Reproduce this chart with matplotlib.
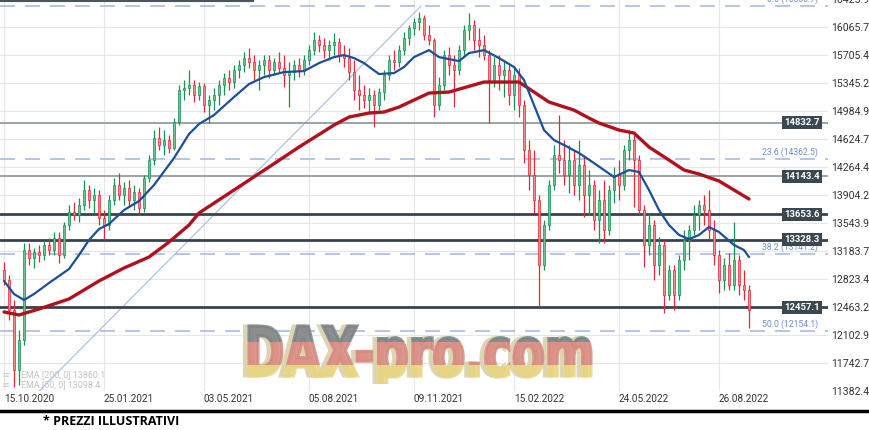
import matplotlib
matplotlib.use('Agg')
import matplotlib.pyplot as plt
import numpy as np
from matplotlib.textpath import TextPath
from matplotlib.font_manager import FontProperties
from matplotlib.patches import PathPatch, Rectangle
from matplotlib.transforms import Affine2D, blended_transform_factory
from matplotlib.lines import Line2D

# ---------------- data ----------------
opens = [12938, 12809, 12423, 11651, 12037, 13195, 13093, 13170, 13131, 13260,
         13195, 13350, 13131, 13517, 13685, 13646, 13775, 13968, 13839, 13903,
         13607, 13517, 13839, 14032, 13903, 13993, 13839, 13942, 13736, 14122,
         14354, 14637, 14547, 14611, 14508, 14843, 15255, 15280, 15319, 15190,
         15306, 15062, 15126, 15190, 15319, 15409, 15358, 15512, 15576, 15667,
         15615, 15512, 15576, 15641, 15512, 15615, 15538, 15448, 15486, 15576,
         15512, 15641, 15769, 15898, 15834, 15769, 15834, 15872, 15705, 15667,
         15486, 15255, 15190, 15126, 15190, 15062, 15229, 15448, 15641, 15615,
         15769, 15924, 16053, 16130, 16181, 15963, 15898, 15062, 15319, 15705,
         15576, 15512, 15769, 16027, 16091, 15898, 15834, 15705, 15383, 15576,
         15448, 15512, 15190, 15448, 15062, 14482, 14161, 13839, 13002, 13517,
         14032, 14418, 14354, 14161, 14354, 14032, 14289, 13903, 14032, 13582,
         13839, 13453, 13968, 14161, 14032, 14482, 14611, 14354, 13710, 13260,
         13517, 13002, 13260, 12616, 12938, 12616, 13067, 13324, 13453, 13646,
         13775, 13710, 13453, 13131, 12809, 13002, 12745, 13067, 12745, 12681]
highs = [13041, 12874, 12552, 12166, 13286, 13286, 13221, 13260, 13324, 13350,
         13427, 13427, 13556, 13775, 13813, 13865, 14096, 14032, 13993, 13968,
         13710, 13903, 14122, 14186, 14071, 14096, 14032, 13993, 14161, 14418,
         14740, 14779, 14740, 14676, 14894, 15319, 15383, 15512, 15383, 15358,
         15345, 15190, 15280, 15383, 15473, 15512, 15576, 15641, 15744, 15795,
         15705, 15641, 15705, 15705, 15667, 15744, 15705, 15615, 15641, 15667,
         15705, 15834, 16001, 15963, 15924, 15898, 15988, 15924, 15834, 15795,
         15641, 15448, 15319, 15280, 15255, 15280, 15512, 15705, 15769, 15834,
         16001, 16091, 16181, 16259, 16220, 16091, 15924, 15422, 15769, 15808,
         15705, 15834, 16091, 16246, 16156, 16053, 15963, 15769, 15679, 15705,
         15641, 15576, 15551, 15538, 15126, 14611, 14482, 13903, 13582, 14096,
         14547, 14933, 14611, 14547, 14482, 14611, 14418, 14225, 14096, 13968,
         14096, 14032, 14264, 14354, 14547, 14740, 14676, 14418, 13775, 13672,
         13582, 13363, 13324, 13002, 13002, 13131, 13453, 13517, 13775, 13839,
         13903, 13968, 13582, 13195, 13093, 13157, 13556, 13131, 12938, 12745]
lows = [12745, 12295, 11432, 11458, 11973, 13002, 12964, 13041, 13067, 13131,
        13131, 13028, 13093, 13453, 13582, 13556, 13710, 13736, 13672, 13517,
        13324, 13453, 13775, 13839, 13775, 13749, 13710, 13646, 13685, 14071,
        14289, 14482, 14418, 14444, 14482, 14804, 15126, 15190, 15100, 15126,
        14972, 14830, 14997, 15062, 15190, 15255, 15280, 15409, 15486, 15538,
        15383, 15255, 15448, 15409, 15448, 15486, 15293, 15036, 15383, 15422,
        15448, 15576, 15705, 15744, 15667, 15641, 15705, 15615, 15551, 15383,
        15126, 14997, 15023, 14959, 14779, 14997, 15126, 15383, 15512, 15551,
        15705, 15834, 15963, 16027, 15898, 15834, 14907, 14997, 15255, 15448,
        15036, 15448, 15705, 15898, 15769, 15679, 15641, 14830, 15293, 15255,
        15165, 15062, 14997, 14907, 14315, 13968, 13672, 12462, 12938, 13453,
        13968, 14186, 14032, 13929, 13903, 13839, 13620, 13646, 13453, 13286,
        13286, 13389, 13800, 13839, 13968, 14354, 13749, 13646, 12977, 13131,
        12809, 12874, 12385, 12552, 12423, 12552, 12938, 13067, 13389, 13453,
        13517, 13324, 13002, 12642, 12681, 12681, 12681, 12616, 12552, 12192]
closes = [12809, 12423, 11651, 12037, 13195, 13093, 13170, 13131, 13260, 13195,
          13350, 13131, 13517, 13685, 13646, 13775, 13968, 13839, 13903, 13607,
          13517, 13839, 14032, 13903, 13993, 13839, 13942, 13736, 14122, 14354,
          14637, 14547, 14611, 14508, 14843, 15255, 15280, 15319, 15190, 15306,
          15062, 15126, 15190, 15319, 15409, 15358, 15512, 15576, 15667, 15615,
          15512, 15576, 15641, 15512, 15615, 15538, 15448, 15486, 15576, 15512,
          15641, 15769, 15898, 15834, 15769, 15834, 15872, 15705, 15667, 15486,
          15255, 15190, 15126, 15190, 15062, 15229, 15448, 15641, 15615, 15769,
          15924, 16053, 16130, 16181, 15963, 15898, 15062, 15319, 15705, 15576,
          15512, 15769, 16027, 16091, 15898, 15834, 15705, 15383, 15576, 15448,
          15512, 15190, 15448, 15062, 14482, 14161, 13839, 13002, 13517, 14032,
          14418, 14354, 14161, 14354, 14032, 14289, 13903, 14032, 13582, 13839,
          13453, 13968, 14161, 14032, 14482, 14611, 14354, 13710, 13260, 13517,
          13002, 13260, 12616, 12938, 12616, 13067, 13324, 13453, 13646, 13775,
          13710, 13453, 13131, 12809, 13002, 12745, 13067, 12745, 12681, 12423]

ema50_idx = [0, 2, 4, 6, 9, 13, 15, 17, 19, 21, 24, 27, 30, 34, 37, 39, 42, 46, 49, 52,
             56, 60, 63, 66, 68, 70, 72, 75, 78, 80, 82, 85, 87, 91, 93, 96, 99, 102, 104, 106,
             108, 110, 112, 115, 118, 120, 122, 125, 127, 129, 131, 133, 135, 137, 139, 141, 143, 146, 148, 149]
ema50_val = [12797, 12629, 12552, 12629, 12771, 12951, 13131, 13324, 13466, 13530,
             13710, 13826, 14032, 14380, 14688, 14817, 14933, 15165, 15332, 15422,
             15486, 15499, 15602, 15679, 15705, 15667, 15602, 15461, 15473, 15551,
             15679, 15769, 15679, 15628, 15731, 15769, 15667, 15551, 15383, 15062,
             14740, 14611, 14547, 14444, 14315, 14225, 14135, 14225, 14199, 13968,
             13710, 13517, 13389, 13337, 13389, 13492, 13427, 13260, 13195, 13105]
ema200_idx = [0, 3, 7, 13, 19, 24, 29, 33, 37, 39, 46, 53, 59, 66, 69, 73, 76, 79, 85, 89,
              96, 103, 106, 109, 114, 117, 119, 123, 126, 129, 133, 136, 139, 143, 146, 149]
ema200_val = [12398, 12359, 12436, 12565, 12797, 12964, 13105, 13298, 13517, 13672,
              13968, 14264, 14521, 14804, 14907, 14959, 14972, 15036, 15216, 15229,
              15358, 15358, 15229, 15100, 14997, 14894, 14830, 14740, 14701, 14521,
              14354, 14225, 14174, 14084, 13968, 13852]

date_labels = ['15.10.2020', '25.01.2021', '03.05.2021', '05.08.2021',
               '09.11.2021', '15.02.2022', '24.05.2022', '26.08.2022']
date_idx = [0, 20, 40, 61, 82, 102, 123, 143]

price_ticks = [11382.4, 11742.7, 12102.9, 12463.2, 12823.4, 13183.7, 13543.9, 13904.2,
               14264.4, 14624.7, 14984.9, 15345.2, 15705.4, 16065.7, 16425.9]

levels_light = [14832.7, 14143.4]
levels_dark = [13653.6, 13328.3, 12457.1]
top_level = 16406

fib_pct = [0.0, 23.6, 38.2, 50.0]
fib_prices = [16336.7, 14362.5, 13141.2, 12154.1]
fib_low, fib_high = 7971.7, 16336.7
fib_low_idx, fib_high_idx = -45.5, 83.4

ema_legend = ['EMA [200, 0] 13860.1', 'EMA [50, 0] 13098.4']

# ---------------- figure ----------------
W, H = 870, 430
fig = plt.figure(figsize=(W / 100, H / 100), dpi=100)
fig.patch.set_facecolor('white')
ax = fig.add_axes([0, 39 / H, 828 / W, 392 / H])
ax.set_facecolor('white')
ax.set_xlim(-0.8, 164.8)
ax.set_ylim(11380.5, 16427)

for s in ax.spines.values():
    s.set_visible(False)

ax.set_yticks(price_ticks, [f'{v:.1f}' for v in price_ticks])
ax.yaxis.tick_right()
ax.set_xticks(date_idx, date_labels, ha='left')
ax.tick_params(axis='y', length=0, pad=2, labelsize=7.6, labelcolor='#333333')
ax.tick_params(axis='x', length=0, pad=2, labelsize=7.2, labelcolor='#333333')
for lbl in ax.get_xticklabels() + ax.get_yticklabels():
    lbl.set_fontfamily('Roboto')
ax.grid(True, color='#e6e6e6', lw=0.8, zorder=0)
ax.set_axisbelow(True)

# fib levels
fib_col = '#a7bbe4'
for p in fib_prices:
    ax.axhline(p, color=fib_col, lw=1.2, dashes=(9, 6), zorder=1)
ax.plot([fib_low_idx, fib_high_idx], [fib_low, fib_high], color=fib_col, lw=0.8, zorder=1)
for pct, p in zip(fib_pct, fib_prices):
    ax.annotate(f'{pct:.1f} ({p:.1f})', xy=(818 / 828, p), xycoords=('axes fraction', 'data'),
                xytext=(0, 1.5), textcoords='offset points', ha='right', va='bottom',
                fontsize=6.2, color='#6f8dcc', family='Roboto', annotation_clip=False)

# horizontal levels
for p in levels_light:
    ax.axhline(p, color='#8a949b', lw=1.2, zorder=2)
for p in levels_dark:
    ax.axhline(p, color='#37444d', lw=2.0, zorder=2)
ax.hlines(top_level, -0.8, 50, color='#4a565e', lw=1.5, zorder=2)

# candles
O = np.array(opens, float); Hh = np.array(highs, float)
L = np.array(lows, float); C = np.array(closes, float)
x = np.arange(len(C))
up = C >= O
wick_col = np.where(up, '#16914f', '#e0283a')
body_col = np.where(up, '#6cc39a', '#f08e94')
ax.vlines(x, L, Hh, colors=wick_col, lw=0.9, zorder=3)
ax.bar(x, np.maximum(np.abs(C - O), 10), bottom=np.minimum(O, C), width=0.5,
       color=body_col, edgecolor=wick_col, linewidth=0.5, zorder=4)

# EMAs
ax.plot(ema200_idx, ema200_val, color='#b1111c', lw=2.4, zorder=5, solid_capstyle='round')
ax.plot(ema50_idx, ema50_val, color='#1d4e98', lw=1.6, zorder=6, solid_capstyle='round')

# level labels
bt = blended_transform_factory(ax.transAxes, ax.transData)
for p in levels_light + levels_dark:
    ax.text(819.5 / 828, p, f'{p:.1f}', transform=bt, ha='right', va='center',
            color='white', fontsize=6.8, weight='bold', family='Roboto', zorder=8,
            bbox=dict(boxstyle='square,pad=0.22', fc='#3b4852', ec='none'))

# EMA legend (faint)
for i, t in enumerate(ema_legend):
    yy = (H - 375 - 10 * i) / H
    fig.text(21 / W, yy, t, fontsize=6.4, color='#c4c4c4', va='center', ha='left', family='Roboto')
    fig.text(2 / W, yy, '\u2261', fontsize=7, color='#cccccc', va='center', ha='left')

# watermark
pix = Affine2D().scale(1 / W, 1 / H) + fig.transFigure
fp = FontProperties(family='DejaVu Sans', weight='bold')
tp = TextPath((0, 0), 'DAX-pro.com', size=100, prop=fp)
cap = TextPath((0, 0), 'D', size=100, prop=fp).get_extents().y1
bb = tp.get_extents()
x0, x1 = 249, 591
base_y = H - 376
sx = (x1 - x0) / bb.width
sy = 50 / cap
base_tr = Affine2D().translate(-bb.x0, 0).scale(sx, sy).translate(x0, base_y)

def clip_rect(ytop_img, ybot_img):
    r = Rectangle((0, H - ybot_img), W, ybot_img - ytop_img, transform=pix)
    return r

shadow = PathPatch(tp, transform=base_tr + Affine2D().translate(-4.5, 0) + pix,
                   fc='#d9d3ae', ec='#d9d3ae', lw=2.2, alpha=0.9, zorder=10)
shadow.set_clip_path(clip_rect(318, 384))
fig.add_artist(shadow)
for (yt, yb), col in zip([(318, 342), (342, 365), (365, 384)], ['#7d8186', '#d9887f', '#e9d57f']):
    pp = PathPatch(tp, transform=base_tr + pix, fc=col, ec=col, lw=2.2, alpha=0.85, zorder=11)
    pp.set_clip_path(clip_rect(yt, yb))
    fig.add_artist(pp)

# bottom rule and note
fig.add_artist(Line2D([0, 1], [(H - 411) / H] * 2, transform=fig.transFigure, color='black', lw=2.5))
fig.text(43 / W, (H - 421.5) / H, '* PREZZI ILLUSTRATIVI', fontsize=9, weight='bold',
         family='Open Sans', color='black', va='center', ha='left')

fig.savefig('out.png', dpi=100, facecolor='white')
